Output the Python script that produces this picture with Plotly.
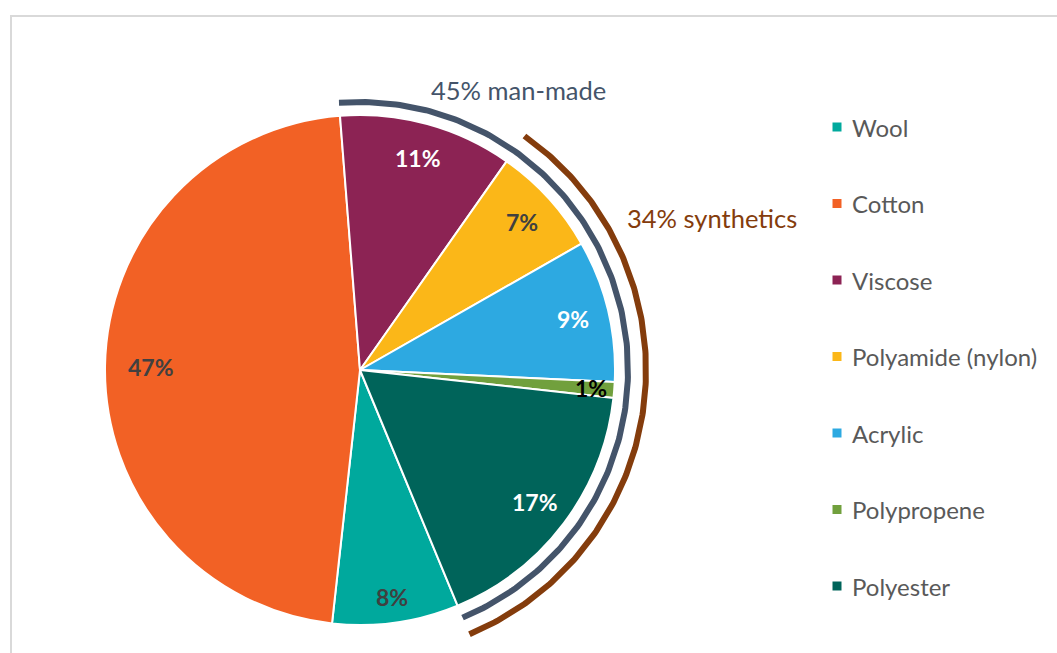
import numpy as np
import plotly.graph_objects as go

# Fibre consumption shares (%)
categories = ["Wool", "Cotton", "Viscose", "Polyamide (nylon)", "Acrylic", "Polypropene", "Polyester"]
shares = [8, 47, 11, 7, 9, 1, 17]
slice_colors = ["#00A99D", "#F26125", "#8C2354", "#FBB718", "#2DA9E1", "#71A03D", "#00645A"]
label_colors = ["#404040", "#404040", "#FFFFFF", "#404040", "#FFFFFF", "#000000", "#FFFFFF"]

# Bracket arcs: (caption, first category of the group, colour)
groups = [("man-made", "Viscose", "#44546A"), ("synthetics", "Polyamide (nylon)", "#843C0C")]

W, H = 1057, 653
CX, CY, R = 360, 370, 255          # pie centre / radius in pixels
START_DEG = 157.5                  # first slice starts here, clockwise from 12 o'clock
ARC_R = [268, 286]                 # bracket radii
CAPTION_POS = [(518, 90), (712, 218)]
FONT = "Lato"

# data labels sit on the slice bisector at this fraction of the radius
LABEL_RF = 0.86
LABEL_RF_OVERRIDE = {"Cotton": 0.82, "Wool": 0.9, "Polypropene": 0.91}

total = sum(shares)
cum = np.concatenate([[0], np.cumsum(shares)])


def polar_px(angle_deg, radius):
    th = np.radians(angle_deg)
    return CX + radius * np.sin(th), CY - radius * np.cos(th)


fig = go.Figure()

fig.add_trace(go.Pie(
    labels=categories,
    values=shares,
    sort=False,
    direction="clockwise",
    rotation=START_DEG,
    marker=dict(colors=slice_colors, line=dict(color="white", width=2)),
    textinfo="none",
    showlegend=False,
    hoverinfo="label+percent",
    domain=dict(x=[(CX - R) / W, (CX + R) / W], y=[1 - (CY + R) / H, 1 - (CY - R) / H]),
))

# percentage labels on each slice
for i, (name, v, lc) in enumerate(zip(categories, shares, label_colors)):
    mid = START_DEG + 360 * (cum[i] + v / 2) / total
    lx, ly = polar_px(mid, R * LABEL_RF_OVERRIDE.get(name, LABEL_RF))
    fig.add_annotation(x=lx, y=ly, xref="x", yref="y", text=f"<b>{v}%</b>", showarrow=False,
                       font=dict(family=FONT, size=23, color=lc))

# group brackets drawn as arcs on a pixel-scaled cartesian plane
for (caption, first, color), r_arc, (tx, ty) in zip(groups, ARC_R, CAPTION_POS):
    i0 = categories.index(first)
    a0 = START_DEG + 360 * cum[i0] / total
    a1 = START_DEG + 360 * cum[-1] / total
    ax, ay = polar_px(np.linspace(a0, a1, 200), r_arc)
    fig.add_trace(go.Scatter(x=ax, y=ay, mode="lines", line=dict(color=color, width=6),
                             hoverinfo="skip", showlegend=False))
    group_share = sum(shares[i0:])
    fig.add_annotation(x=tx, y=ty, xref="x", yref="y", text=f"{group_share}% {caption}",
                       showarrow=False, font=dict(family=FONT, size=25.5, color=color))

# legend
LEG_X, LEG_Y0, LEG_DY, SQ = 837, 127, 76.5, 9
shapes = [dict(type="rect", xref="paper", yref="paper", x0=11 / W, x1=1.05, y0=-0.05, y1=1 - 16 / H,
               line=dict(color="#D9D9D9", width=2), fillcolor="rgba(0,0,0,0)", layer="below")]
for k, (name, col) in enumerate(zip(categories, slice_colors)):
    yk = LEG_Y0 + k * LEG_DY
    shapes.append(dict(type="rect", xref="x", yref="y", x0=LEG_X - SQ / 2, x1=LEG_X + SQ / 2,
                       y0=yk - SQ / 2, y1=yk + SQ / 2, fillcolor=col, line=dict(width=0)))
    fig.add_annotation(x=LEG_X + 13, y=yk, xref="x", yref="y", text=name, xanchor="left",
                       showarrow=False, font=dict(family=FONT, size=24, color="#595959"))

fig.update_layout(
    width=W, height=H, margin=dict(l=0, r=0, t=0, b=0),
    paper_bgcolor="white", plot_bgcolor="rgba(0,0,0,0)",
    xaxis=dict(range=[0, W], visible=False, fixedrange=True),
    yaxis=dict(range=[H, 0], visible=False, fixedrange=True),
    shapes=shapes,
)

fig.write_html("out.html")
